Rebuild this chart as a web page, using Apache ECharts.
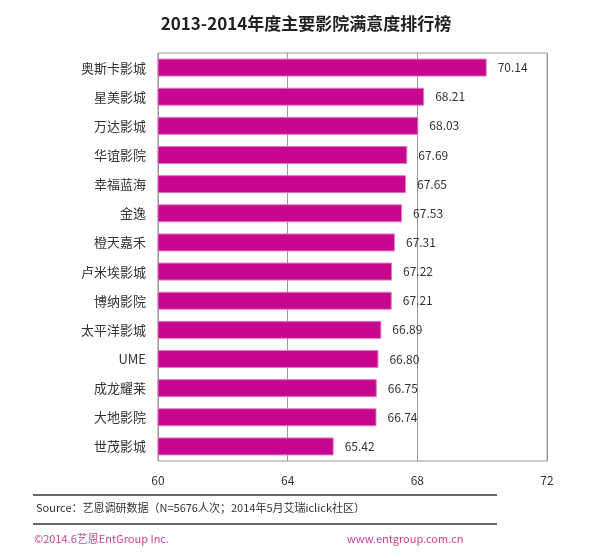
<!DOCTYPE html>
<html><head><meta charset="utf-8">
<script src="https://cdn.jsdelivr.net/npm/echarts@6/dist/echarts.min.js"></script>
<style>html,body{margin:0;padding:0;background:#fff}#c{width:612px;height:560px}</style>
</head><body><div id="c"></div>
<script>
const categories = ['奥斯卡影城','星美影城','万达影城','华谊影院','幸福蓝海','金逸','橙天嘉禾','卢米埃影城','博纳影院','太平洋影城','UME','成龙耀莱','大地影院','世茂影城'];
const values = [70.14,68.21,68.03,67.69,67.65,67.53,67.31,67.22,67.21,66.89,66.80,66.75,66.74,65.42];
const xTicks = [60,64,68,72];
const font = '"Noto Sans CJK SC","Microsoft YaHei",sans-serif';
const chart = echarts.init(document.getElementById('c'));
chart.setOption({
  animation:false,
  title:{text:'2013-2014年度主要影院满意度排行榜',left:'center',top:10,
    textStyle:{fontFamily:font,fontSize:17,fontWeight:'bold',color:'#222'}},
  grid:{left:158,right:65,top:53,bottom:99,show:true,borderColor:'#999',borderWidth:1},
  xAxis:{type:'value',min:60,max:72,interval:4,
    axisLine:{show:false},axisTick:{show:false},
    splitLine:{show:true,lineStyle:{color:'#999'}},
    axisLabel:{color:'#333',fontFamily:font,fontSize:12,margin:13,
      formatter:v=>xTicks.includes(v)?String(v):''}},
  yAxis:{type:'category',data:categories,inverse:true,
    axisLine:{show:false},axisTick:{show:false},
    axisLabel:{color:'#333',fontFamily:font,fontSize:13,margin:12}},
  series:[{type:'bar',data:values,barWidth:18,
    itemStyle:{color:'#c8078f',borderColor:'#e07cc4',borderWidth:1},
    label:{show:true,position:'right',distance:11,color:'#333',fontFamily:font,fontSize:12,
      formatter:p=>p.value.toFixed(2)}}],
  graphic:[
    {type:'line',shape:{x1:33,y1:495,x2:497,y2:495},style:{stroke:'#333',lineWidth:1.5}},
    {type:'text',left:36,top:502,style:{text:'Source：艺恩调研数据（N=5676人次；2014年5月艾瑞iclick社区）',fill:'#333',font:'11px '+font}},
    {type:'line',shape:{x1:33,y1:524,x2:497,y2:524},style:{stroke:'#333',lineWidth:1.5}},
    {type:'text',left:34,top:533,style:{text:'©2014.6艺恩EntGroup Inc.',fill:'#d0429a',font:'11px '+font}},
    {type:'text',left:347,top:533,style:{text:'www.entgroup.com.cn',fill:'#d0429a',font:'11px '+font}}
  ]
});
</script></body></html>
